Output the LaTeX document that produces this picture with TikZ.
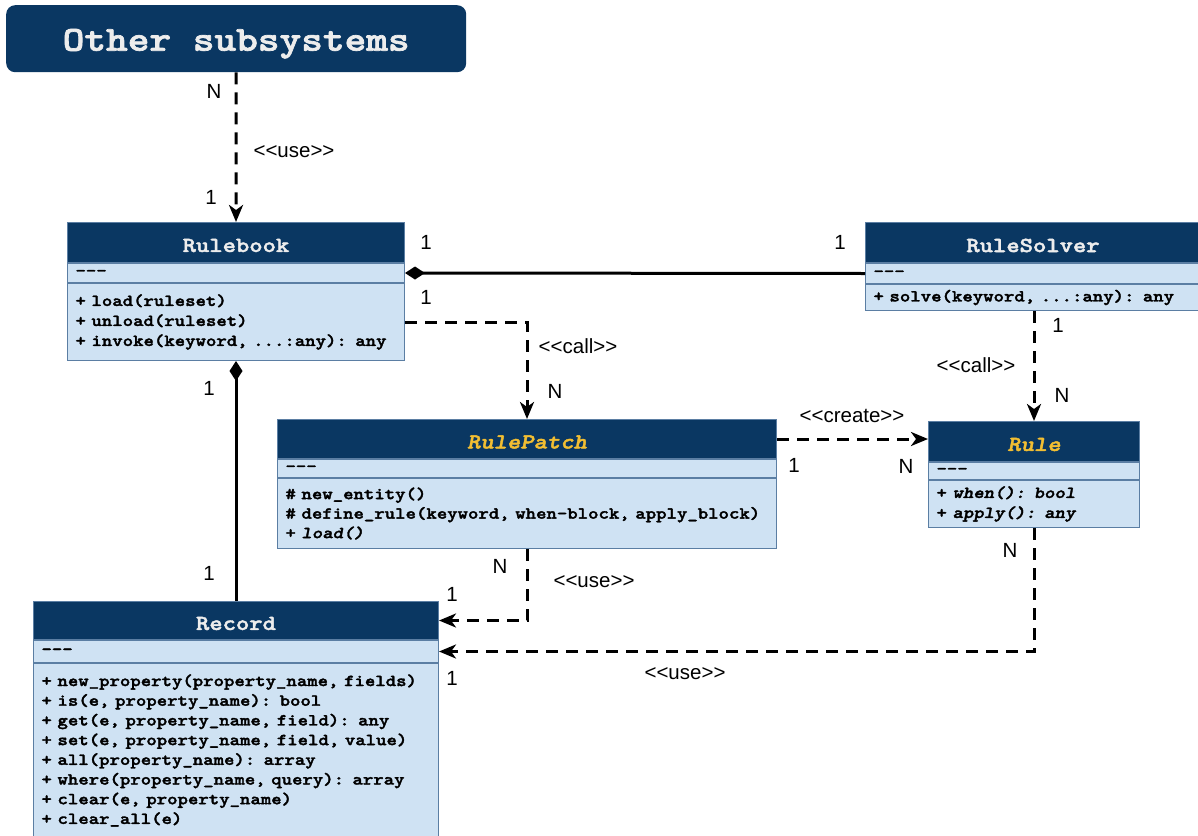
\documentclass[tikz,border=0pt]{standalone}
\usepackage{fontspec}
\setmainfont{Liberation Sans}[Ligatures=NoCommon]
\newfontfamily\codefont{lmmono10-regular.otf}[
  ItalicFont=lmmono10-italic.otf,
  BoldFont=lmmonolt10-bold.otf,
  BoldItalicFont=lmmonolt10-boldoblique.otf,
  BoldFeatures={FakeBold=2},
  BoldItalicFeatures={FakeBold=2},
  FakeStretch=1.18, Ligatures=NoCommon]
\usetikzlibrary{arrows.meta}

\definecolor{navy}{HTML}{0A3762}
\definecolor{pale}{HTML}{CFE2F3}
\definecolor{edge}{HTML}{5B7EA3}
\definecolor{gold}{HTML}{F2BE32}
\definecolor{snow}{HTML}{EDEDED}

% lower a title inside its box without changing the box's reported size
\newcommand{\sink}[2]{\raisebox{-#1}[\height][\depth]{#2}}

\tikzset{
  hdr/.style={draw=edge, line width=1pt, fill=navy, text=snow, anchor=north west,
    font=\fontsize{21.5}{24}\selectfont\codefont\bfseries, inner sep=0pt},
  attr/.style={draw=edge, line width=1pt, fill=pale, anchor=north west, align=left,
    font=\fontsize{16.8}{20}\selectfont\codefont\bfseries, inner xsep=8pt, inner ysep=0pt},
  meth/.style={attr},
  lbl/.style={font=\fontsize{20.5}{24}\selectfont, inner sep=0pt},
  dep/.style={line width=3pt, dash pattern=on 12pt off 8pt,
    -{Stealth[length=17pt,width=14pt,inset=5pt]}},
  comp/.style={line width=3pt, {Diamond[length=20pt,width=13pt]}-},
}

\begin{document}
\begin{tikzpicture}[x=1pt,y=-1pt]
\useasboundingbox (0,0) rectangle (1198,835);
\clip (0,0) rectangle (1198,835);

% external caller
\node[fill=navy, rounded corners=9pt, anchor=north west, minimum width=460pt,
  minimum height=67pt, inner sep=0pt, text=snow,
  font=\fontsize{35}{40}\selectfont\codefont\bfseries] (other) at (6,5) {\sink{5pt}{Other subsystems}};

% Rulebook
\node[hdr, minimum width=337pt, minimum height=40pt] (rbh) at (67,222) {\sink{3pt}{Rulebook}};
\node[attr, text width=321pt, minimum height=19pt] (rba) at (rbh.south west) {-{}-{}-};
\node[meth, text width=321pt, minimum height=77pt] (rbm) at (rba.south west)
  {+ load(ruleset)\\+ unload(ruleset)\\+ invoke(keyword, ...:any): any};

% RuleSolver
\node[hdr, minimum width=340pt, minimum height=40pt] (rsh) at (865,222) {\sink{3pt}{RuleSolver}\hspace*{5pt}};
\node[attr, text width=324pt, minimum height=20pt] (rsa) at (rsh.south west) {-{}-{}-};
\node[meth, text width=324pt, minimum height=26pt] (rsm) at (rsa.south west)
  {+ solve(keyword, ...:any): any};

% RulePatch
\node[hdr, minimum width=499pt, minimum height=39pt] (rph) at (277,419) {\sink{3pt}{\textcolor{gold}{\itshape RulePatch}}};
\node[attr, text width=483pt, minimum height=18pt] (rpa) at (rph.south west) {-{}-{}-};
\node[meth, text width=483pt, minimum height=70pt, font=\fontsize{16.8}{19.5}\selectfont\codefont\bfseries] (rpm) at (rpa.south west)
  {\# new\_entity()\\\# define\_rule(keyword, when-block, apply\_block)\\+ \textit{load()}};

% Rule
\node[hdr, minimum width=211pt, minimum height=40pt] (ruh) at (928,421) {\sink{3pt}{\textcolor{gold}{\itshape Rule}}};
\node[attr, text width=195pt, minimum height=17pt] (rua) at (ruh.south west) {-{}-{}-};
\node[meth, text width=195pt, minimum height=47pt] (rum) at (rua.south west)
  {+ \textit{when(): bool}\\+ \textit{apply(): any}};

% Record
\node[hdr, minimum width=405pt, minimum height=38pt] (rch) at (33,601) {\sink{3pt}{Record}};
\node[attr, text width=389pt, minimum height=22pt] (rca) at (rch.south west) {-{}-{}-};
\node[meth, text width=389pt, minimum height=174pt, font=\fontsize{16.8}{19.7}\selectfont\codefont\bfseries] (rcm) at (rca.south west)
  {+ new\_property(property\_name, fields)\\
   + is(e, property\_name): bool\\
   + get(e, property\_name, field): any\\
   + set(e, property\_name, field, value)\\
   + all(property\_name): array\\
   + where(property\_name, query): array\\
   + clear(e, property\_name)\\
   + clear\_all(e)};

% relations
\draw[dep] (other.south) -- (rbh.north);
\draw[comp] (rba.east) -- (rsa.west);
\draw[dep] (rbm.east) -| (rph.north);
\draw[comp] (rbm.south) -- (rch.north);
\draw[dep] (rsm.south -| ruh.north) -- (ruh.north);
\draw[dep] (rph.east) -- (rph.east -| ruh.west);
\draw[dep] (rpm.south) |- (rch.east);
\draw[dep] (rum.south) |- (rca.east);

% multiplicities and stereotypes
\node[lbl] (m1) at (214,91) {N};
\node[lbl] (s1) at (294,152) {<{}<use>{}>};
\node[lbl] (m2) at (211,197) {1};
\node[lbl] (m3) at (426,242) {1};
\node[lbl] (m4) at (840,242) {1};
\node[lbl] (m5) at (426,297) {1};
\node[lbl] (s2) at (578,346) {<{}<call>{}>};
\node[lbl] (m6) at (555,391) {N};
\node[lbl] (m7) at (209,388) {1};
\node[lbl] (m8) at (209,573) {1};
\node[lbl] (m9) at (1058,325) {1};
\node[lbl] (s3) at (976,365) {<{}<call>{}>};
\node[lbl] (m10) at (1062,395) {N};
\node[lbl] (s4) at (852,416) {<{}<create>{}>};
\node[lbl] (m11) at (794,465) {1};
\node[lbl] (m12) at (906,466) {N};
\node[lbl] (m13) at (500,566) {N};
\node[lbl] (s5) at (594,582) {<{}<use>{}>};
\node[lbl] (m14) at (452,594) {1};
\node[lbl] (m15) at (1010,550) {N};
\node[lbl] (m16) at (452,678) {1};
\node[lbl] (s6) at (685,674) {<{}<use>{}>};
\end{tikzpicture}
\end{document}
